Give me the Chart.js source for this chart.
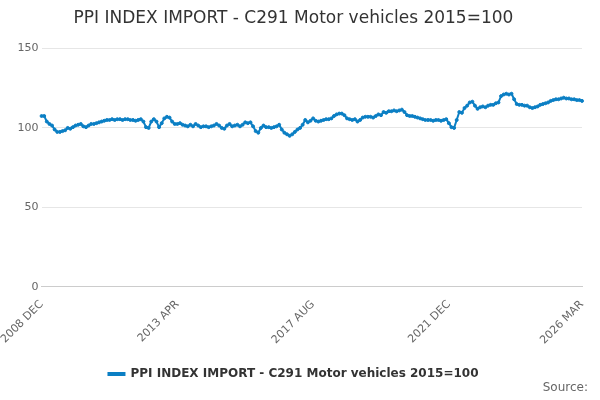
<!DOCTYPE html>
<html>
<head>
<meta charset="utf-8">
<script src="https://cdn.jsdelivr.net/npm/chart.js@4"></script>
<style>
body { margin: 0; background: #fff; font-family: "DejaVu Sans", sans-serif; }
#wrap { position: relative; width: 600px; height: 400px; }
#source { position: absolute; right: 12px; bottom: 6px; font-size: 12px; color: #666; }
</style>
</head>
<body>
<div id="wrap">
<canvas id="myChart" width="600" height="400"></canvas>
<div id="source">Source:</div>
</div>
<script>
const months = ['JAN','FEB','MAR','APR','MAY','JUN','JUL','AUG','SEP','OCT','NOV','DEC'];
const tick_labels = ['2008 DEC', '2013 APR', '2017 AUG', '2021 DEC', '2026 MAR'];
const values = [
    107.5,107.5,104,102.5,101.5,99,97.5,97.5,98,98.5,100,99.5,100.5,101.5,102,102.5,101,100.5,101.5,102.5,
    102.5,103,103.5,104,104.5,105,105,105.5,105,105.5,105.5,105,105.5,105.5,105,105,104.5,105,105.5,104,
    100.5,100,104,105.5,104,100.5,103,106,107,106.5,104,102.5,102.5,103,102,101.5,101,102,101,102.5,
    101.5,100.5,101,101,100.5,101,101.5,102.5,101.5,100,99.5,101.5,102.5,101,101.5,102,101,102,103.5,103,
    103.5,101,98,97,100,101.5,100.5,100.5,100,100.5,101,102,99,97,96,95,96,97.5,99,100,
    102,105,103.5,104.5,106,104.5,104,104.5,105,105.5,105.5,106,107.5,108.5,109,109,108,106,105.5,105,
    105.5,104,105,106.5,107,107,107,106.5,107.5,108.5,108,110,109.5,110.5,110.5,111,110.5,111,111.5,110,
    108,107.5,107.5,107,106.5,106,105.5,105,105,105,104.5,105,105,104.5,105,105.5,103,100.5,100,105,
    110,109.5,112.5,114,116,116.5,114,112,113,113.5,113,114,114.5,114.5,115.5,116,120,121,121.5,121,
    121.5,118,115,114.5,114.5,114,114,113,112.5,113,113.5,114.5,115,115.5,116,117,117.5,118,118,118.5,
    119,118.5,118.5,118,118,117.5,117.5,117
];
// month labels from 2008 DEC
let labels = [];
for (let i = 0; i < values.length; i++) {
    let m = 11 + i;
    labels.push((2008 + Math.floor(m / 12)) + ' ' + months[m % 12]);
}

new Chart(document.getElementById('myChart').getContext('2d'), {
    type: 'line',
    data: {
        labels: labels,
        datasets: [{
            label: 'PPI INDEX IMPORT - C291 Motor vehicles 2015=100',
            data: values,
            borderColor: '#0b7fc4',
            backgroundColor: '#0b7fc4',
            borderWidth: 2,
            pointRadius: 1.5,
            pointBorderWidth: 1,
            tension: 0
        }]
    },
    options: {
        responsive: false,
        animation: false,
        layout: { padding: { left: 5, right: 18, top: 0, bottom: 10 } },
        plugins: {
            title: {
                display: true,
                text: 'PPI INDEX IMPORT - C291 Motor vehicles 2015=100',
                color: '#333',
                font: { size: 17, weight: 'normal', family: 'DejaVu Sans' },
                padding: { top: 8, bottom: 20 }
            },
            legend: {
                position: 'bottom',
                labels: {
                    color: '#333',
                    font: { size: 12, weight: 'bold', family: 'DejaVu Sans' },
                    boxWidth: 16,
                    boxHeight: 2,
                    padding: 18
                }
            }
        },
        scales: {
            x: {
                grid: { display: false, drawTicks: true },
                border: { color: '#ccc' },
                ticks: {
                    autoSkip: false,
                    maxRotation: 45,
                    minRotation: 45,
                    color: '#666',
                    font: { size: 11, family: 'DejaVu Sans' },
                    callback: function(v, i) {
                        return tick_labels.includes(labels[i]) ? labels[i] : null;
                    }
                }
            },
            y: {
                min: 0,
                max: 150,
                ticks: { stepSize: 50, color: '#666', font: { size: 11, family: 'DejaVu Sans' } },
                grid: { color: '#e6e6e6', drawTicks: false },
                border: { display: false }
            }
        }
    }
});
</script>
</body>
</html>
